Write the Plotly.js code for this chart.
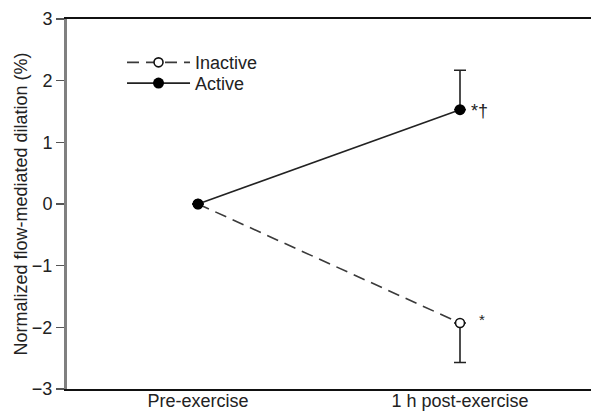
<!DOCTYPE html>
<html>
<head>
<script src="https://cdn.plot.ly/plotly-3.0.1.min.js"></script>
<style>html,body{margin:0;padding:0;background:#fff;}#chart{width:591px;height:412px;}</style>
</head>
<body>
<div id="chart"></div>
<script>
const categories = ["Pre-exercise", "1 h post-exercise"];
const inactiveValues = [0, -1.93];
const inactiveErrDown = [null, 0.64];
const activeValues = [0, 1.53];
const activeErrUp = [null, 0.64];
const yTicks = [-3, -2, -1, 0, 1, 2, 3];
const yTickLabels = ["\u22123", "\u22122", "\u22121", "0", "1", "2", "3"];

const xIdx = categories.map((c, i) => i);

const traces = [
  {
    x: xIdx, y: inactiveValues, name: "Inactive", type: "scatter", mode: "lines+markers", legend: "legend",
    line: {color: "#3a3a3a", width: 1.6, dash: "12px,7px"},
    marker: {symbol: "circle", size: 9, color: "#fff", line: {color: "#111", width: 1.6}},
    error_y: {type: "data", symmetric: false, array: [null, 0], arrayminus: inactiveErrDown, color: "#222", thickness: 1.6, width: 6}
  },
  {
    x: xIdx, y: activeValues, name: "Active", type: "scatter", mode: "lines+markers", legend: "legend2",
    line: {color: "#222", width: 1.6},
    marker: {symbol: "circle", size: 11, color: "#000"},
    error_y: {type: "data", symmetric: false, array: activeErrUp, arrayminus: [null, 0], color: "#222", thickness: 1.6, width: 6}
  }
];

const legendBase = {xanchor: "left", yanchor: "top", bgcolor: "rgba(0,0,0,0)", itemwidth: 63, tracegroupgap: 0, font: {size: 18, color: "#222"}};

const layout = {
  width: 591, height: 412,
  margin: {l: 67, r: 0, t: 19, b: 23},
  paper_bgcolor: "#fff", plot_bgcolor: "#fff",
  font: {family: "Liberation Sans, Arial, sans-serif", size: 18, color: "#222"},
  showlegend: true,
  legend: Object.assign({x: 0.105, y: 0.932}, legendBase),
  legend2: Object.assign({x: 0.105, y: 0.876}, legendBase),
  xaxis: {
    range: [-0.5, 1.5], tickvals: xIdx, ticktext: categories, showgrid: false, zeroline: false,
    showline: true, mirror: true, linecolor: "#111", linewidth: 2, ticks: "", fixedrange: true,
    tickfont: {size: 18, color: "#222"}, ticklabelstandoff: -6
  },
  yaxis: {
    range: [-3, 3], tickvals: yTicks, ticktext: yTickLabels, showgrid: false, zeroline: false,
    showline: true, linecolor: "#808080", linewidth: 3, ticks: "outside", ticklen: 8, tickcolor: "#555", tickwidth: 1.5,
    tickfont: {size: 18, color: "#222"},
    title: {text: "Normalized flow-mediated dilation (%)", font: {size: 18, color: "#222"}, standoff: 0}
  },
  annotations: [
    {x: 1, y: activeValues[1], xref: "x", yref: "y", text: "*\u2020", showarrow: false, xanchor: "left", xshift: 9, yshift: -1, font: {size: 18, color: "#222"}},
    {x: 1, y: inactiveValues[1], xref: "x", yref: "y", text: "*", showarrow: false, xanchor: "left", xshift: 17, yshift: 4, font: {size: 15, color: "#222"}}
  ]
};

Plotly.newPlot("chart", traces, layout, {displayModeBar: false, staticPlot: true});
</script>
</body>
</html>
